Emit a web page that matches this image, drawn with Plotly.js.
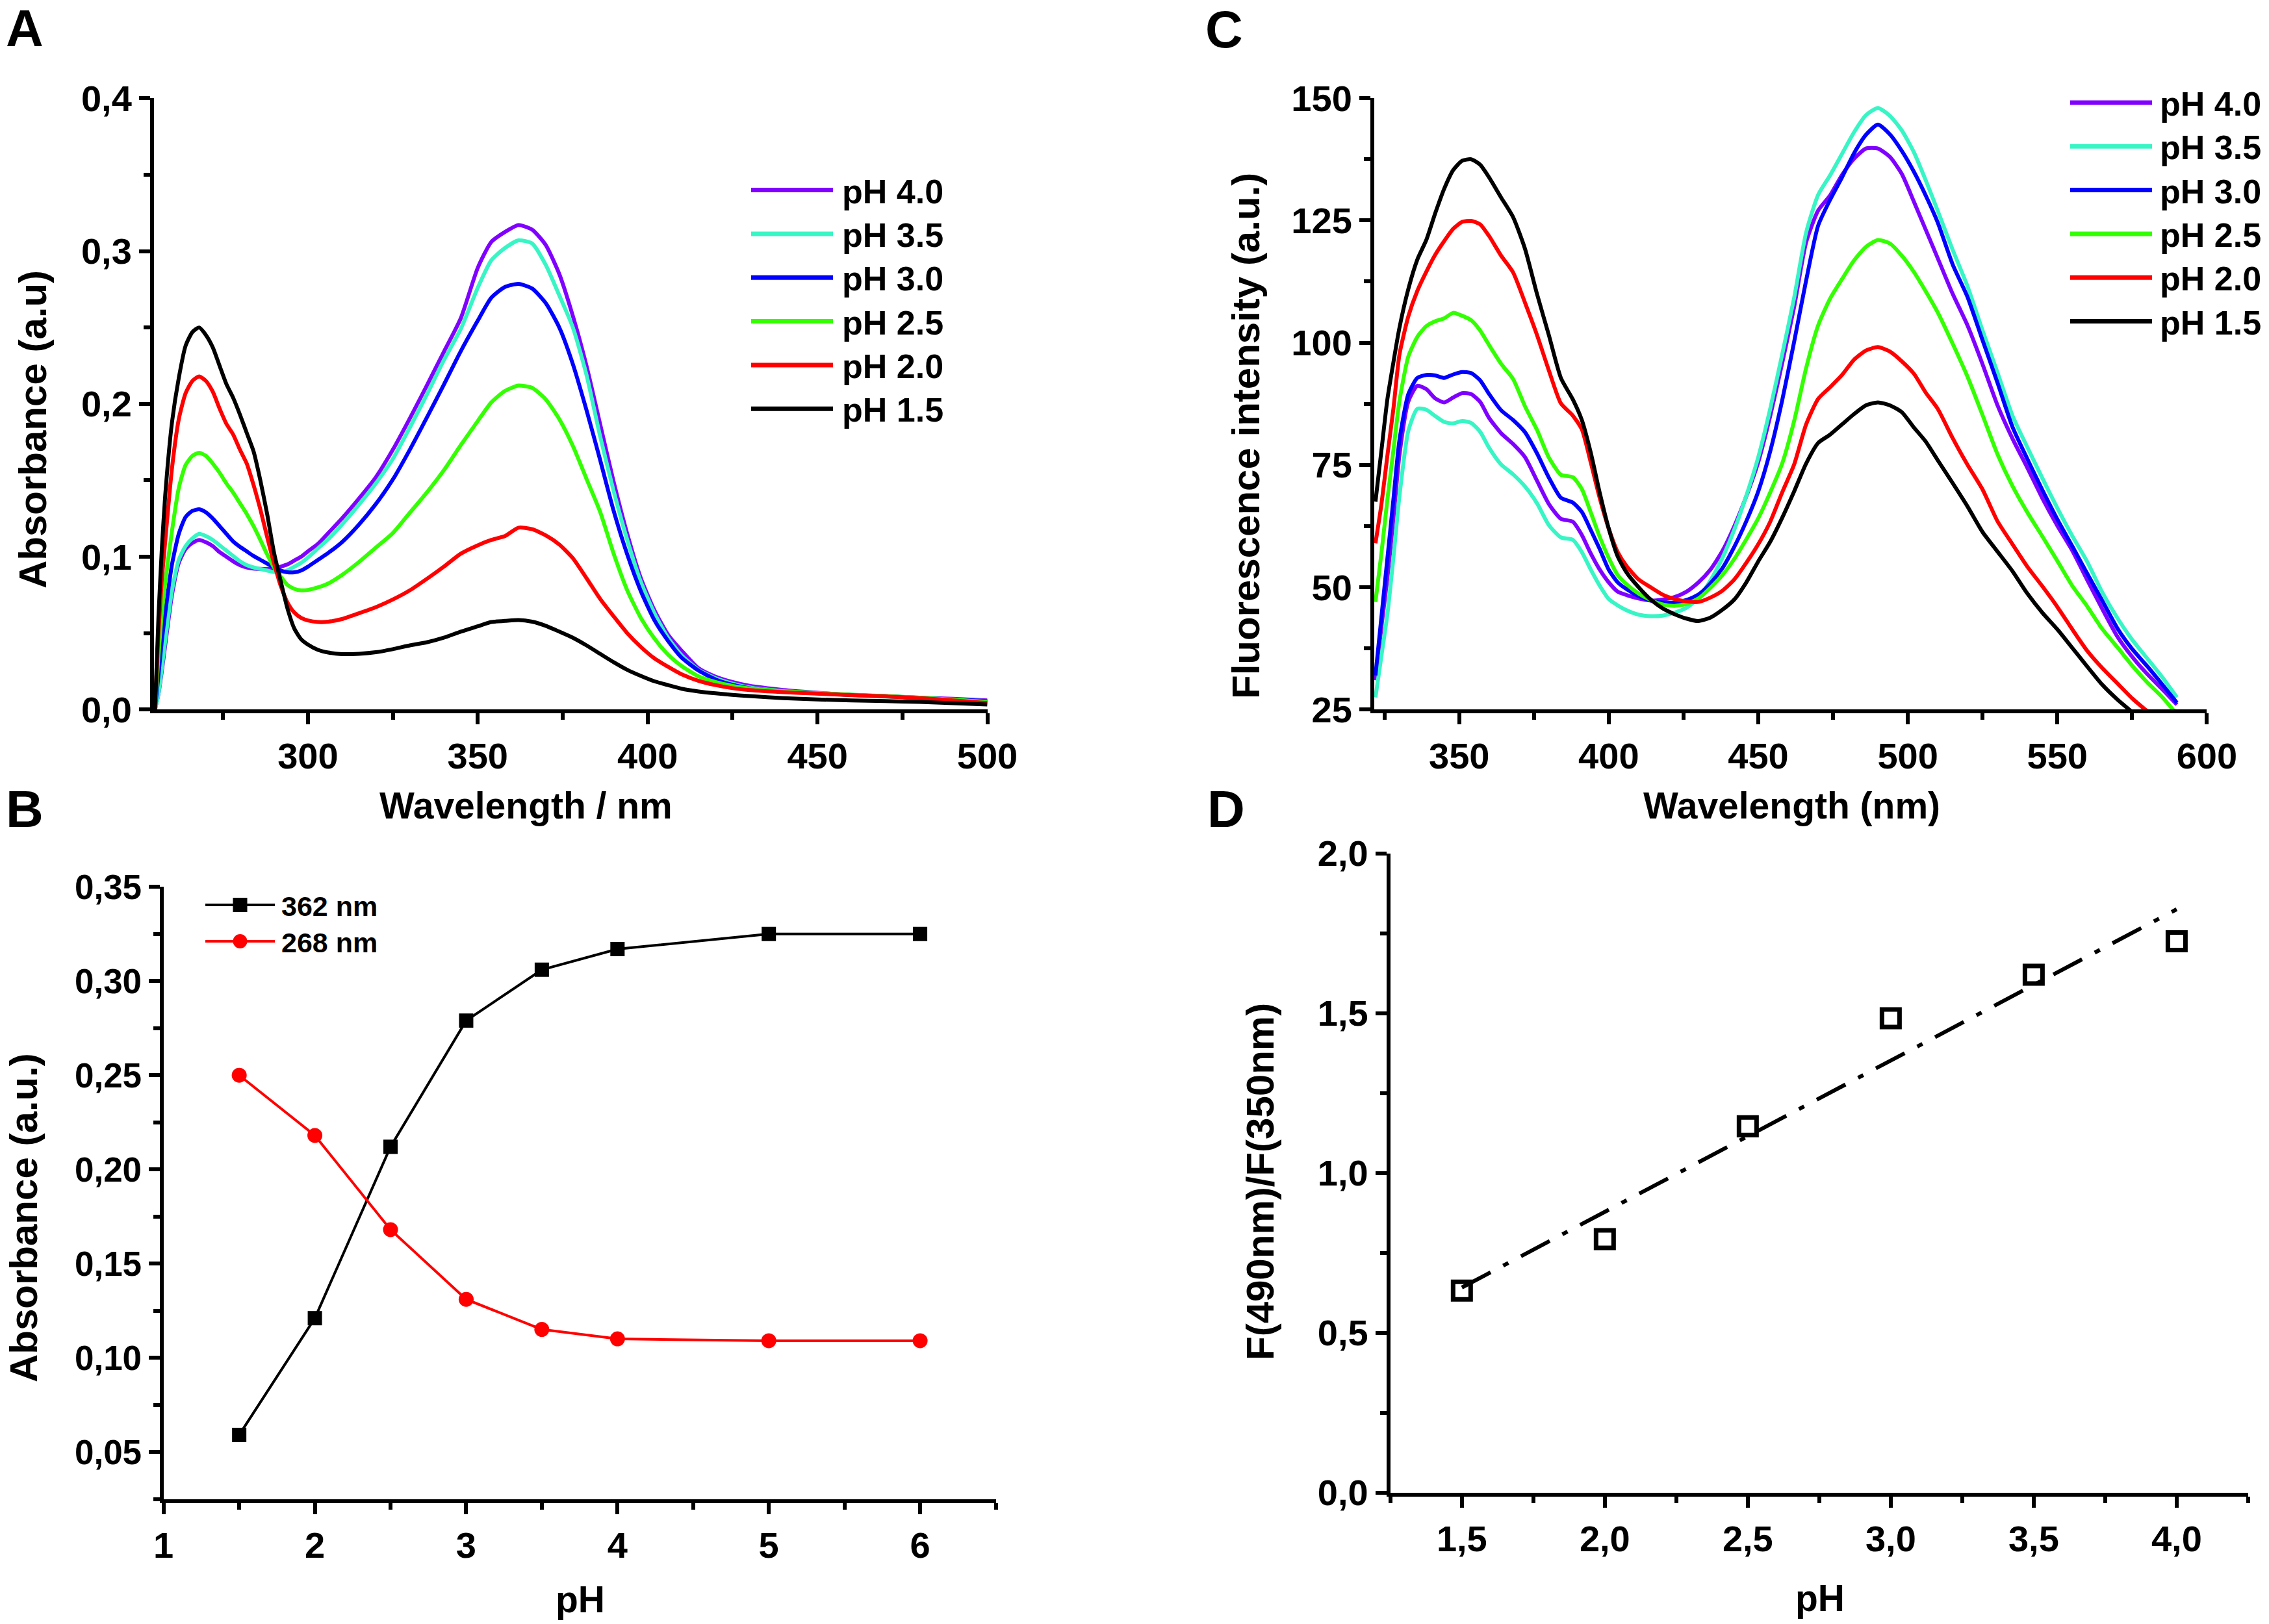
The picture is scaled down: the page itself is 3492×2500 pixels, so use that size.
<!DOCTYPE html>
<html>
<head>
<meta charset="utf-8">
<script src="https://cdn.plot.ly/plotly-3.0.1.min.js"></script>
<style>html,body{margin:0;padding:0;background:#fff;}#chart{width:3492px;height:2500px;}</style>
</head>
<body>
<div id="chart"></div>
<script>
// ---------------- DATA ----------------
// Panel A: UV-Vis absorbance spectra
const seriesLabels = ['pH 4.0', 'pH 3.5', 'pH 3.0', 'pH 2.5', 'pH 2.0', 'pH 1.5'];
const seriesColors = ['#8000FF', '#38F5C5', '#0000FF', '#33FF00', '#FF0000', '#000000'];

const wavelengthA = [255,256,257,258,260,262,264,266,268,270,272,274,276,278,280,282,284,286,288,290,292,294,296,298,300,303,306,310,315,320,325,330,335,340,345,350,354,358,362,366,370,374,378,382,386,390,394,398,402,406,410,415,420,425,430,440,450,460,470,480,490,500];

const absPH40 = [0.0,0.01,0.025,0.042,0.075,0.096,0.105,0.109,0.111,0.1095,0.107,0.103,0.100,0.097,0.0945,0.093,0.0923,0.092,0.092,0.0923,0.0935,0.095,0.0975,0.100,0.1035,0.1085,0.1155,0.125,0.138,0.152,0.170,0.1905,0.212,0.234,0.256,0.289,0.306,0.3125,0.317,0.314,0.304,0.285,0.2575,0.225,0.187,0.149,0.115,0.086,0.065,0.049,0.0385,0.027,0.0215,0.018,0.0155,0.0128,0.011,0.0095,0.0087,0.0078,0.007,0.006];
const absPH35 = [0.0,0.01,0.027,0.045,0.078,0.098,0.107,0.112,0.115,0.1135,0.111,0.1075,0.104,0.1005,0.097,0.0945,0.093,0.092,0.091,0.090,0.0898,0.0912,0.0935,0.096,0.0995,0.1055,0.1115,0.121,0.134,0.148,0.164,0.1845,0.206,0.2285,0.249,0.276,0.294,0.302,0.307,0.305,0.291,0.271,0.250,0.219,0.179,0.143,0.111,0.0835,0.063,0.047,0.0355,0.026,0.0205,0.017,0.0145,0.0121,0.0106,0.0094,0.0084,0.0075,0.0066,0.0055];
const absPH30 = [0.0,0.022,0.045,0.063,0.095,0.115,0.126,0.130,0.131,0.129,0.125,0.120,0.115,0.110,0.1065,0.1035,0.1005,0.098,0.0955,0.093,0.091,0.0898,0.0898,0.091,0.0935,0.098,0.1025,0.1095,0.121,0.1345,0.1505,0.170,0.191,0.2125,0.2345,0.2545,0.2695,0.2765,0.2785,0.2755,0.266,0.250,0.226,0.196,0.1635,0.130,0.1015,0.0775,0.0585,0.045,0.034,0.0255,0.0197,0.0162,0.014,0.012,0.0106,0.0096,0.0087,0.0077,0.0066,0.0055];
const absPH25 = [0.0,0.035,0.063,0.083,0.117,0.145,0.160,0.166,0.168,0.166,0.161,0.155,0.148,0.142,0.135,0.128,0.120,0.111,0.1015,0.093,0.087,0.0815,0.079,0.078,0.0783,0.080,0.0825,0.088,0.0965,0.106,0.1155,0.1288,0.142,0.1565,0.173,0.1888,0.201,0.2085,0.212,0.2105,0.203,0.190,0.1725,0.151,0.1295,0.102,0.078,0.060,0.0465,0.036,0.0285,0.0217,0.018,0.0155,0.0138,0.012,0.0108,0.0097,0.0088,0.0078,0.0065,0.005];
const absPH20 = [0.0,0.05,0.085,0.11,0.158,0.19,0.207,0.215,0.218,0.215,0.208,0.197,0.187,0.180,0.170,0.161,0.147,0.131,0.113,0.096,0.081,0.070,0.0635,0.060,0.0583,0.0573,0.0575,0.0592,0.063,0.067,0.072,0.078,0.0855,0.0935,0.102,0.1075,0.111,0.1135,0.119,0.118,0.114,0.108,0.099,0.086,0.0725,0.061,0.050,0.041,0.0335,0.028,0.0231,0.0188,0.016,0.014,0.0128,0.0114,0.0104,0.0095,0.0086,0.0075,0.006,0.0043];
const absPH15 = [0.0,0.06,0.105,0.14,0.188,0.217,0.238,0.247,0.250,0.245,0.237,0.225,0.213,0.204,0.193,0.181,0.169,0.150,0.128,0.103,0.084,0.066,0.053,0.046,0.0425,0.039,0.0373,0.0363,0.0365,0.0375,0.0395,0.042,0.044,0.047,0.051,0.0545,0.0573,0.058,0.0586,0.0575,0.0548,0.051,0.047,0.042,0.0365,0.031,0.026,0.022,0.0185,0.016,0.0136,0.0118,0.0106,0.0096,0.0088,0.0075,0.0066,0.006,0.0055,0.005,0.0042,0.0033];

// Panel B: absorbance vs pH
const pHB = [1.5, 2, 2.5, 3, 3.5, 4, 5, 6];
const abs362 = [0.059, 0.121, 0.212, 0.279, 0.306, 0.317, 0.325, 0.325];
const abs268 = [0.250, 0.218, 0.168, 0.131, 0.115, 0.110, 0.109, 0.109];
const labelsB = ['362 nm', '268 nm'];

// Panel C: fluorescence spectra
const wavelengthC = [322,324,326,328,330,333,336,339,342,345,348,351,354,357,360,364,368,372,376,380,384,388,391,394,397,400,403,406,410,414,418,422,426,430,434,438,442,446,450,454,458,462,466,470,474,478,482,486,490,494,498,502,506,510,515,520,525,530,535,540,545,550,555,560,565,570,575,580,585,590];

const fluPH40 = [31,42,52,64,77,88,91.2,90.5,88.6,87.8,88.8,89.7,89.5,87.9,84.6,81.5,79.3,76.6,71.8,67,64,63.4,60.7,56.9,53.6,51,49.1,48.4,47.7,47.3,47.5,48,49.1,51,53.6,57.4,62.5,68.6,75.6,85,95.8,107.3,120.5,127,130.1,134.3,137.6,139.7,139.7,138,134.5,128.9,123.1,117.3,110,103.5,95.6,87.2,80.4,74.4,68.2,62.6,57.5,51.5,45.6,40,35.8,32.3,29.2,26];
const fluPH35 = [27.5,36,44.5,56,68.5,82,86.5,86.3,85,83.8,83.5,84,83.6,81.8,78.5,75.1,73.1,70.6,67.2,62.7,60.2,59.7,57.2,53.6,50.3,47.6,46.3,45.3,44.4,44.1,44.2,44.8,45.8,47.8,51.4,56,61.8,68.7,76.6,86.5,97.6,109.2,122.5,130.2,134.2,138.6,143,146.5,148,146.4,143.4,139,133.2,127,119,111.5,102.5,93.9,85.1,78.6,72.3,66.2,60.5,55.2,49,43.8,39.3,35.5,31.7,27.5];
const fluPH30 = [32,44,56,68,80,89.5,92.8,93.4,93.3,92.8,93.5,94,93.8,92.3,89.5,86.2,84.2,81.7,77.4,72.4,68.3,67.3,65.4,61.7,57.8,53.6,51,49.6,48.2,47.3,46.9,46.9,47.4,48.5,50.8,53.9,58.3,63.5,69.6,77.8,88.2,100.2,112.7,123.9,129.2,133.8,138.7,142.5,144.6,142.6,139.2,135,130.1,124.6,116,109.3,100.5,91.8,82.8,76.2,69.9,63.9,58.4,52.8,47.3,41.7,37.4,33.9,30.2,26.4];
const fluPH25 = [47,57,68,78,88,97.2,101.2,103.4,104.4,105,106.1,105.5,104.6,102.5,99.5,95.7,92.6,87,82.2,76.5,73,72.5,70.1,65.3,60.3,56,52.5,50.6,48.7,47.4,46.5,46.2,46.6,47.7,49.9,52.5,55.8,59.8,64.1,69.4,75.3,84,94.8,103.5,109,113,116.8,119.6,121,120.3,117.8,114.5,110.5,106.2,99.8,93,85.2,77.2,70.7,65.3,60.4,55.4,50.3,46.1,41.5,37.8,34,30.6,27.6,24];
const fluPH20 = [59,67,77,86.5,97.5,105.4,110.6,114.5,118,120.8,123.3,124.7,124.9,124.2,121.8,117.8,114.4,108.2,101.6,94.3,87.6,85.1,82.3,75.5,68.2,62,57.2,54.3,51.6,50,48.5,47.6,47.1,47,47.9,49.3,51.6,55,58.8,63.4,69.4,75.1,83.3,88.5,90.9,93.4,96.5,98.4,99.1,98.2,96.2,93.7,89.8,86.5,80.5,75,70,63.5,58.8,54.2,50.2,46,41.4,37,33.5,30.4,27.3,24.7,null,null];
const fluPH15 = [67.5,78,88.5,96,103,111,117,121,126.5,131.5,135.3,137.2,137.5,136.4,133.8,129.7,125.7,119.2,110,101.5,92.8,88.4,84.2,77.5,69.3,62,56.3,53,50,47.5,45.7,44.5,43.6,43.1,43.8,45.4,47.5,51,55.3,59.3,64.2,69.6,75.3,79.5,81.2,83.3,85.4,87.2,87.8,87.2,85.8,82.7,79.8,76,71.3,66.5,61.3,57.3,53.3,48.7,44.8,41.4,37.6,33.8,30.1,27.1,24.5,null,null,null];

// Panel D: fluorescence ratio vs pH
const pHD = [1.5, 2.0, 2.5, 3.0, 3.5, 4.0];
const ratioD = [0.632, 0.793, 1.146, 1.484, 1.620, 1.725];

// Axis / text labels
const panelLetters = ['A', 'B', 'C', 'D'];
const titleAx = 'Wavelength / nm', titleAy = 'Absorbance (a.u)';
const titleBx = 'pH', titleBy = 'Absorbance (a.u.)';
const titleCx = 'Wavelength (nm)', titleCy = 'Fluorescence intensity (a.u.)';
const titleDx = 'pH', titleDy = 'F(490nm)/F(350nm)';

// ---------------- LAYOUT HELPERS ----------------
const W = 3492, H = 2500;
const px = x => x / W;
const py = y => 1 - y / H;
const FONT = 'Liberation Sans, Arial, Helvetica, sans-serif';

const absSeries = [absPH40, absPH35, absPH30, absPH25, absPH20, absPH15];
const fluSeries = [fluPH40, fluPH35, fluPH30, fluPH25, fluPH20, fluPH15];

const traces = [];
absSeries.forEach((ys, i) => traces.push({
  x: wavelengthA, y: ys, type: 'scatter', mode: 'lines', name: seriesLabels[i],
  xaxis: 'x', yaxis: 'y',
  line: {color: seriesColors[i], width: 6, shape: 'spline', smoothing: 0.6}
}));
traces.push({x: pHB, y: abs362, type: 'scatter', mode: 'lines+markers', name: labelsB[0],
  xaxis: 'x2', yaxis: 'y2', line: {color: '#000', width: 4},
  marker: {symbol: 'square', size: 22, color: '#000'}});
traces.push({x: pHB, y: abs268, type: 'scatter', mode: 'lines+markers', name: labelsB[1],
  xaxis: 'x2', yaxis: 'y2', line: {color: '#FF0000', width: 4},
  marker: {symbol: 'circle', size: 23, color: '#FF0000'}});
fluSeries.forEach((ys, i) => traces.push({
  x: wavelengthC, y: ys, type: 'scatter', mode: 'lines', name: seriesLabels[i],
  xaxis: 'x3', yaxis: 'y3', connectgaps: false,
  line: {color: seriesColors[i], width: 6, shape: 'spline', smoothing: 0.6}
}));
// linear fit of ratio data
(function () {
  const n = pHD.length;
  const mx = pHD.reduce((a, b) => a + b, 0) / n;
  const my = ratioD.reduce((a, b) => a + b, 0) / n;
  let sxy = 0, sxx = 0;
  for (let i = 0; i < n; i++) { sxy += (pHD[i] - mx) * (ratioD[i] - my); sxx += (pHD[i] - mx) ** 2; }
  const b = sxy / sxx, a = my - b * mx;
  const fx = [pHD[0], pHD[n - 1]];
  traces.push({x: fx, y: fx.map(v => a + b * v), type: 'scatter', mode: 'lines', name: 'fit',
    xaxis: 'x4', yaxis: 'y4', line: {color: '#000', width: 6, dash: '50px,22px,9px,22px'}});
})();
traces.push({x: pHD, y: ratioD, type: 'scatter', mode: 'markers', name: 'ratio',
  xaxis: 'x4', yaxis: 'y4',
  marker: {symbol: 'square-open', size: 27, color: '#000', line: {width: 7, color: '#000'}}});

function axis(opts) {
  return Object.assign({
    showline: true, linewidth: 6, linecolor: '#000', mirror: false,
    showgrid: false, zeroline: false,
    ticks: 'outside', ticklen: 17, tickwidth: 6, tickcolor: '#000',
    tickfont: {family: FONT, size: 56, color: '#000', weight: 'bold'},
    fixedrange: true
  }, opts);
}
function minor(d) { return {ticks: 'outside', ticklen: 10, tickwidth: 6, tickcolor: '#000', dtick: d, showgrid: false}; }

const layout = {
  width: W, height: H,
  margin: {l: 0, r: 0, t: 0, b: 0, pad: 0},
  paper_bgcolor: '#fff', plot_bgcolor: 'rgba(0,0,0,0)',
  showlegend: false,
  separators: ',.',
  font: {family: FONT, color: '#000'},
  xaxis: axis({domain: [px(237), px(1519.6)], anchor: 'y', range: [254.7, 500.01], tick0: 0, dtick: 50, minor: minor(25)}),
  yaxis: axis({domain: [py(1092.3), py(151)], anchor: 'x', range: [0, 0.4001], tick0: 0, dtick: 0.1, tickformat: '.1f', minor: minor(0.05)}),
  xaxis2: axis({domain: [px(251.7), px(1532.5)], anchor: 'y2', range: [1, 6.5], tick0: 0, dtick: 1, minor: minor(0.5)}),
  yaxis2: axis({domain: [py(2307.5), py(1365)], anchor: 'x2', range: [0.025, 0.3501], tick0: 0, dtick: 0.05, tickformat: '.2f', minor: minor(0.025),
    tickfont: {family: FONT, size: 53, color: '#000', weight: 'bold'}}),
  xaxis3: axis({domain: [px(2115), px(3396.4)], anchor: 'y3', range: [321.6, 600.01], tick0: 0, dtick: 50, minor: minor(25)}),
  yaxis3: axis({domain: [py(1092.3), py(151)], anchor: 'x3', range: [25, 150.01], tick0: 0, dtick: 25, minor: minor(12.5)}),
  xaxis4: axis({domain: [px(2139.8), px(3459.9)], anchor: 'y4', range: [1.25, 4.25], tick0: 0, dtick: 0.5, tickformat: '.1f', minor: minor(0.25)}),
  yaxis4: axis({domain: [py(2297.7), py(1313.6)], anchor: 'x4', range: [0, 2.0001], tick0: 0, dtick: 0.5, tickformat: '.1f', minor: minor(0.25)}),
  shapes: [],
  annotations: []
};

function ann(text, x, y, size, extra) {
  layout.annotations.push(Object.assign({
    text: text, xref: 'paper', yref: 'paper', x: px(x), y: py(y),
    xanchor: 'center', yanchor: 'middle', showarrow: false,
    font: {family: FONT, size: size, color: '#000', weight: 'bold'}
  }, extra || {}));
}

// panel letters
ann(panelLetters[0], 38, 44, 80);
ann(panelLetters[1], 38, 1246, 80);
ann(panelLetters[2], 1884, 46, 80);
ann(panelLetters[3], 1887, 1246, 80);

// axis titles
ann(titleAx, 809, 1240, 57);
ann(titleBx, 893, 2462, 57);
ann(titleCx, 2757, 1240, 57);
ann(titleDx, 2801, 2460, 57);
ann(titleAy, 51, 661, 60, {textangle: -90});
ann(titleBy, 36, 1875, 60, {textangle: -90});
ann(titleCy, 1918, 671, 60, {textangle: -90});
ann(titleDy, 1939, 1819, 60, {textangle: -90});

// legends for A and C
const rowsA = [292.6, 359.9, 427.3, 494.6, 562, 629.3];
const rowsC = [157.9, 225.2, 292.6, 359.9, 427.3, 494.6];
function lineLegend(rows, x0, x1, xt) {
  rows.forEach((r, i) => {
    layout.shapes.push({type: 'line', xref: 'paper', yref: 'paper', x0: px(x0), x1: px(x1), y0: py(r), y1: py(r),
      line: {color: seriesColors[i], width: 7}});
    ann(seriesLabels[i], xt, r + 2, 52, {xanchor: 'left'});
  });
}
lineLegend(rowsA, 1156, 1282, 1294);
lineLegend(rowsC, 3186, 3312, 3322);

// legend for B
const rowsB = [1393, 1449];
const colorsB = ['#000000', '#FF0000'];
const symB = ['rect', 'circle'];
rowsB.forEach((r, i) => {
  layout.shapes.push({type: 'line', xref: 'paper', yref: 'paper', x0: px(316), x1: px(423), y0: py(r), y1: py(r),
    line: {color: colorsB[i], width: 4}});
  layout.shapes.push({type: symB[i], xref: 'paper', yref: 'paper', xsizemode: 'pixel', ysizemode: 'pixel',
    xanchor: px(369.5), yanchor: py(r), x0: -11, x1: 11, y0: -11, y1: 11,
    fillcolor: colorsB[i], line: {width: 0}});
  ann(labelsB[i], 431, r + 2, 43, {xanchor: 'left'});
});

Plotly.newPlot('chart', traces, layout, {staticPlot: true, displayModeBar: false});
</script>
</body>
</html>
